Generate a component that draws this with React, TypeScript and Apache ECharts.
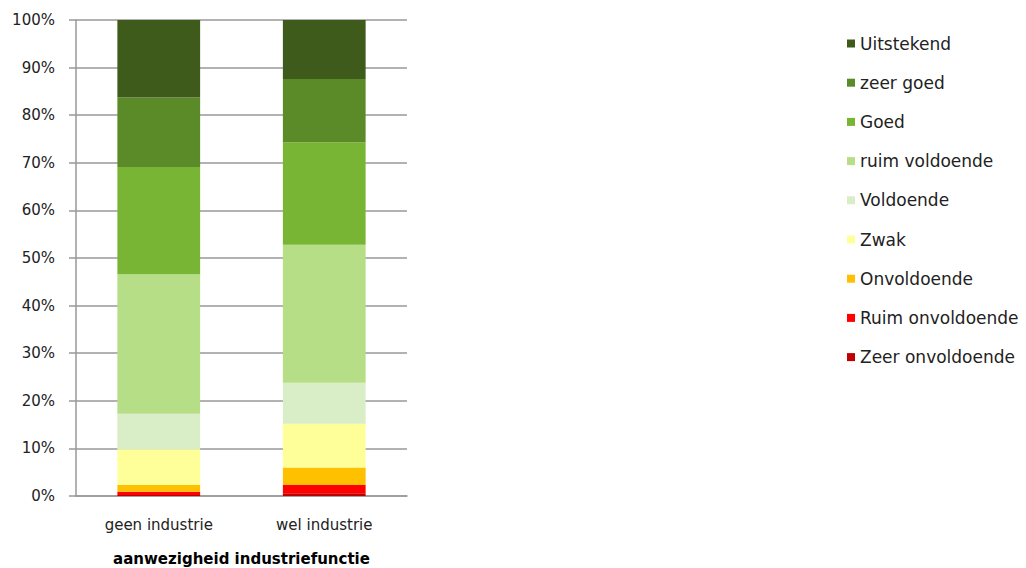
import React, { useEffect, useRef } from "react";
import * as echarts from "echarts";

const categories = ["geen industrie", "wel industrie"];
const seriesNames = [
  "Zeer onvoldoende",
  "Ruim onvoldoende",
  "Onvoldoende",
  "Zwak",
  "Voldoende",
  "ruim voldoende",
  "Goed",
  "zeer goed",
  "Uitstekend",
];
const seriesColors = [
  "#c00000",
  "#ff0000",
  "#ffc000",
  "#ffff99",
  "#d9eec6",
  "#b5de87",
  "#79b535",
  "#5b8a28",
  "#3e5b1b",
];
const zeerOnvoldoende = [0.2, 0.6];
const ruimOnvoldoende = [0.7, 1.7];
const onvoldoende = [1.4, 3.7];
const zwak = [7.5, 9.2];
const voldoende = [7.5, 8.6];
const ruimVoldoende = [29.3, 29.0];
const goed = [22.5, 21.5];
const zeerGoed = [14.6, 13.3];
const uitstekend = [16.3, 12.4];
const seriesValues = [
  zeerOnvoldoende,
  ruimOnvoldoende,
  onvoldoende,
  zwak,
  voldoende,
  ruimVoldoende,
  goed,
  zeerGoed,
  uitstekend,
];
const xAxisTitle = "aanwezigheid industriefunctie";

const FONT = "DejaVu Sans";

export default function App() {
  const ref = useRef<HTMLDivElement>(null);
  useEffect(() => {
    if (!ref.current) return;
    const chart = echarts.init(ref.current, undefined, { renderer: "svg" });
    chart.setOption({
      animation: false,
      backgroundColor: "#ffffff",
      grid: {
        left: 76,
        right: 619,
        top: 20,
        bottom: 72,
        containLabel: false,
        outerBoundsMode: "none",
      },
      legend: {
        orient: "vertical",
        left: 842,
        top: 30,
        itemWidth: 8,
        itemHeight: 8,
        itemGap: 22.2,
        icon: "rect",
        data: [...seriesNames].reverse(),
        textStyle: { fontFamily: FONT, fontSize: 17, color: "#222", lineHeight: 16 },
      },
      xAxis: {
        type: "category",
        data: categories,
        name: xAxisTitle,
        nameLocation: "middle",
        nameGap: 55,
        nameTextStyle: { fontFamily: FONT, fontSize: 15, fontWeight: "bold", color: "#000" },
        axisLine: { show: true, lineStyle: { color: "#999", width: 1.5 } },
        axisTick: { show: false },
        axisLabel: { fontFamily: FONT, fontSize: 15, color: "#222", margin: 21 },
      },
      yAxis: {
        type: "value",
        min: 0,
        max: 100,
        interval: 10,
        axisLine: { show: true, lineStyle: { color: "#999", width: 1.5 } },
        axisTick: { show: true, inside: false, length: 7, lineStyle: { color: "#999", width: 1.5 } },
        splitLine: { show: true, lineStyle: { color: "#999", width: 1.5 } },
        axisLabel: {
          fontFamily: FONT,
          fontSize: 15,
          color: "#222",
          margin: 21,
          formatter: "{value}%",
        },
      },
      series: seriesNames.map((name, i) => ({
        name,
        type: "bar",
        stack: "total",
        barWidth: "50%",
        data: seriesValues[i],
        itemStyle: { color: seriesColors[i] },
      })),
    });
    return () => chart.dispose();
  }, []);
  return <div ref={ref} style={{ width: 1026, height: 568, position: "absolute", left: 0, top: 0 }} />;
}
